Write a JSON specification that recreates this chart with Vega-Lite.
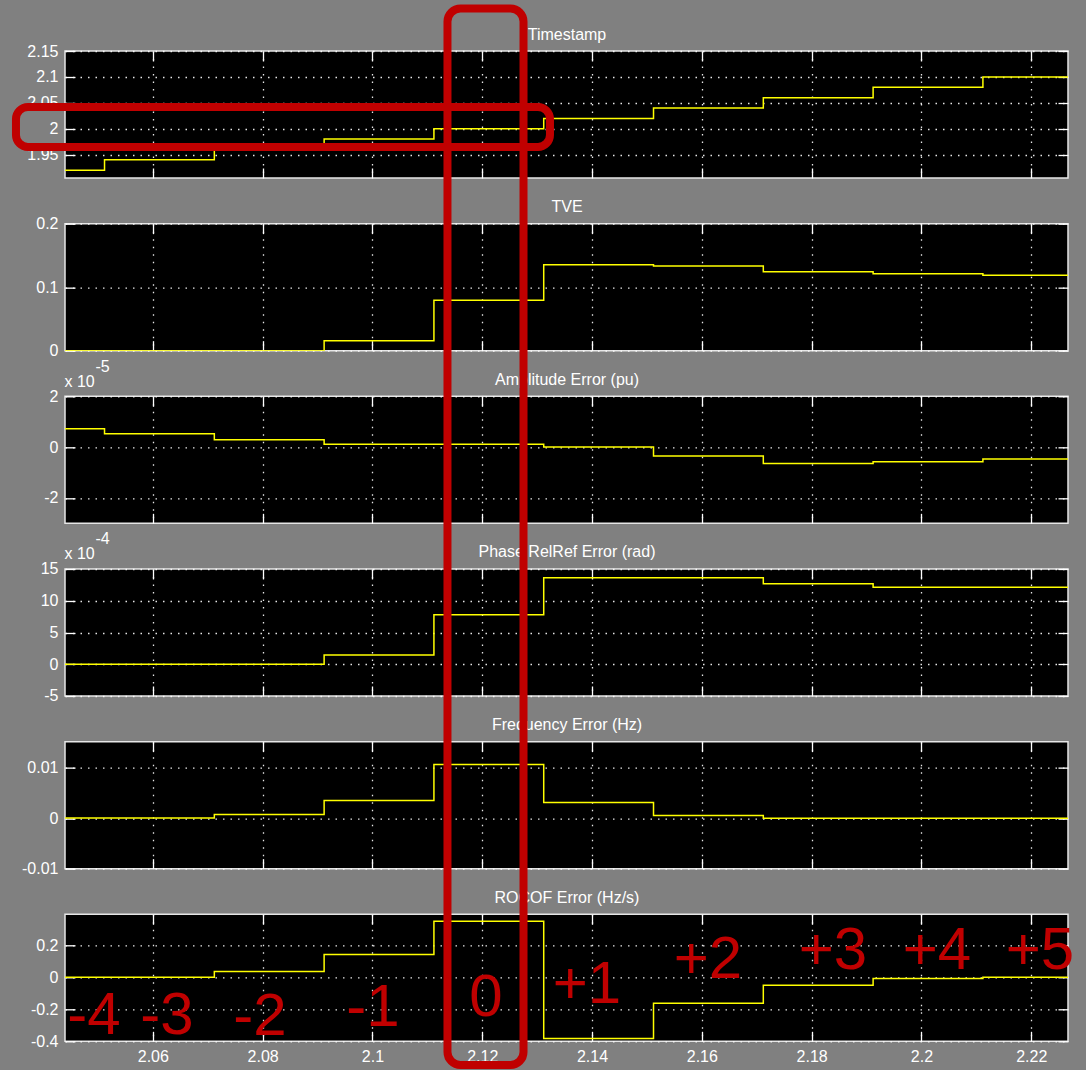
{
  "$schema": "https://vega.github.io/schema/vega-lite/v6.json",
  "background": "#808080",
  "padding": {"left": 11, "top": 3, "right": 11, "bottom": 0},
  "autosize": {"type": "pad"},
  "config": {
    "view": {"fill": "#000000", "stroke": "#E6E6E6", "strokeWidth": 1.5},
    "axis": {
      "domain": false, "ticks": true, "tickSize": -10, "tickColor": "#FFFFFF", "tickWidth": 1.3,
      "labelPadding": 17, "labelColor": "#FFFFFF", "labelFont": "Liberation Sans", "labelFontSize": 16,
      "labelFlush": false, "labelOverlap": false, "labelBound": false,
      "gridColor": "#FFFFFF", "gridDash": [1.5, 6], "gridWidth": 1.3, "gridOpacity": 0.9,
      "titleColor": "#FFFFFF", "titleFont": "Liberation Sans", "titleFontSize": 16, "titleFontWeight": "normal"
    }
  },
  "datasets": {
    "ts": [
      {"t": 2.044, "v": 1.92}, {"t": 2.0512, "v": 1.94}, {"t": 2.0712, "v": 1.96}, {"t": 2.0912, "v": 1.98},
      {"t": 2.1112, "v": 2.0}, {"t": 2.1312, "v": 2.02}, {"t": 2.1512, "v": 2.04}, {"t": 2.1712, "v": 2.06},
      {"t": 2.1912, "v": 2.08}, {"t": 2.2112, "v": 2.1}, {"t": 2.2267, "v": 2.1}
    ],
    "tve": [
      {"t": 2.044, "v": 0}, {"t": 2.0912, "v": 0.0158}, {"t": 2.1112, "v": 0.0794}, {"t": 2.1312, "v": 0.1353},
      {"t": 2.1512, "v": 0.1332}, {"t": 2.1712, "v": 0.1242}, {"t": 2.1912, "v": 0.1211}, {"t": 2.2112, "v": 0.1189},
      {"t": 2.2267, "v": 0.1189}
    ],
    "amp": [
      {"t": 2.044, "v": 0.72}, {"t": 2.0512, "v": 0.53}, {"t": 2.0712, "v": 0.29}, {"t": 2.0912, "v": 0.11},
      {"t": 2.1312, "v": 0.0}, {"t": 2.1512, "v": -0.35}, {"t": 2.1712, "v": -0.64}, {"t": 2.1912, "v": -0.58},
      {"t": 2.2112, "v": -0.47}, {"t": 2.2267, "v": -0.47}
    ],
    "phase": [
      {"t": 2.044, "v": 0}, {"t": 2.0912, "v": 1.44}, {"t": 2.1112, "v": 7.8}, {"t": 2.1312, "v": 13.6},
      {"t": 2.1712, "v": 12.67}, {"t": 2.1912, "v": 12.14}, {"t": 2.2267, "v": 12.14}
    ],
    "freq": [
      {"t": 2.044, "v": 0.00005}, {"t": 2.0712, "v": 0.0007}, {"t": 2.0912, "v": 0.0035}, {"t": 2.1112, "v": 0.0106},
      {"t": 2.1312, "v": 0.0031}, {"t": 2.1512, "v": 0.0005}, {"t": 2.1712, "v": 0.0}, {"t": 2.2267, "v": 0.0}
    ],
    "rocof": [
      {"t": 2.044, "v": 0}, {"t": 2.0712, "v": 0.037}, {"t": 2.0912, "v": 0.142}, {"t": 2.1112, "v": 0.351},
      {"t": 2.1312, "v": -0.382}, {"t": 2.1512, "v": -0.162}, {"t": 2.1712, "v": -0.05}, {"t": 2.1912, "v": -0.008},
      {"t": 2.2112, "v": 0}, {"t": 2.2267, "v": 0}
    ],
    "boxH": [{"x1": 2.03507, "x2": 2.13234, "y1": 2.042, "y2": 1.9649}],
    "boxV": [{"x1": 2.11367, "x2": 2.12752, "y1": 6.057, "y2": -0.5482}],
    "marks": [
      {"lab": "-4", "t": 2.04928, "v": -0.3544},
      {"lab": "-3", "t": 2.06258, "v": -0.3544},
      {"lab": "-2", "t": 2.07952, "v": -0.3606},
      {"lab": "-1", "t": 2.1001, "v": -0.3043},
      {"lab": "0", "t": 2.12069, "v": -0.2418},
      {"lab": "+1", "t": 2.13908, "v": -0.1605},
      {"lab": "+2", "t": 2.16112, "v": -0.0042},
      {"lab": "+3", "t": 2.18389, "v": 0.052},
      {"lab": "+4", "t": 2.20283, "v": 0.052},
      {"lab": "+5", "t": 2.2216, "v": 0.052}
    ]
  },
  "spacing": 45.66,
  "bounds": "flush",
  "vconcat": [
    {
      "width": 1003, "height": 127,
      "layer": [
        {
          "data": {"name": "ts"},
          "mark": {"type": "line", "interpolate": "step-after", "color": "#FFFF00", "strokeWidth": 1.5, "clip": true},
          "encoding": {
            "x": {"field": "t", "type": "quantitative", "scale": {"domain": [2.044, 2.2267], "nice": false, "zero": false},
                  "axis": {"orient": "bottom", "values": [2.06, 2.08, 2.1, 2.12, 2.14, 2.16, 2.18, 2.2, 2.22], "labels": false, "grid": true, "title": null}},
            "y": {"field": "v", "type": "quantitative", "scale": {"domain": [1.905, 2.15], "nice": false, "zero": false},
                  "axis": {"orient": "left", "values": [1.95, 2, 2.05, 2.1, 2.15], "grid": true, "title": null, "labelExpr": "'' + datum.value"}}
          }
        },
        {
          "data": {"name": "ts"},
          "mark": {"type": "line", "opacity": 0},
          "encoding": {
            "x": {"field": "t", "type": "quantitative", "axis": {"orient": "top", "values": [2.06, 2.08, 2.1, 2.12, 2.14, 2.16, 2.18, 2.2, 2.22], "labels": false, "grid": false,
                  "title": "Timestamp", "titleAngle": 0, "titleX": 501.5, "titleY": -12, "titleAlign": "center", "titleBaseline": "alphabetic"}},
            "y": {"field": "v", "type": "quantitative", "axis": {"orient": "right", "values": [1.95, 2, 2.05, 2.1, 2.15], "labels": false, "grid": false, "title": null}}
          }
        },
        {
          "data": {"name": "boxH"},
          "mark": {"type": "rect", "fill": "transparent", "stroke": "#C00000", "strokeWidth": 8, "cornerRadius": 12, "clip": false},
          "encoding": {
            "x": {"field": "x1", "type": "quantitative", "axis": null},
            "x2": {"field": "x2"},
            "y": {"field": "y1", "type": "quantitative", "axis": null},
            "y2": {"field": "y2"}
          }
        }
      ],
      "resolve": {"axis": {"x": "independent", "y": "independent"}}
    },
    {
      "width": 1003, "height": 127,
      "layer": [
        {
          "data": {"name": "tve"},
          "mark": {"type": "line", "interpolate": "step-after", "color": "#FFFF00", "strokeWidth": 1.5, "clip": true},
          "encoding": {
            "x": {"field": "t", "type": "quantitative", "scale": {"domain": [2.044, 2.2267], "nice": false, "zero": false},
                  "axis": {"orient": "bottom", "values": [2.06, 2.08, 2.1, 2.12, 2.14, 2.16, 2.18, 2.2, 2.22], "labels": false, "grid": true, "title": null}},
            "y": {"field": "v", "type": "quantitative", "scale": {"domain": [0, 0.2], "nice": false, "zero": false},
                  "axis": {"orient": "left", "values": [0, 0.1, 0.2], "grid": true, "title": null, "labelExpr": "'' + datum.value"}}
          }
        },
        {
          "data": {"name": "tve"},
          "mark": {"type": "line", "opacity": 0},
          "encoding": {
            "x": {"field": "t", "type": "quantitative", "axis": {"orient": "top", "values": [2.06, 2.08, 2.1, 2.12, 2.14, 2.16, 2.18, 2.2, 2.22], "labels": false, "grid": false,
                  "title": "TVE", "titleAngle": 0, "titleX": 501.5, "titleY": -12, "titleAlign": "center", "titleBaseline": "alphabetic"}},
            "y": {"field": "v", "type": "quantitative", "axis": {"orient": "right", "values": [0, 0.1, 0.2], "labels": false, "grid": false, "title": null}}
          }
        }
      ],
      "resolve": {"axis": {"x": "independent", "y": "independent"}}
    },
    {
      "width": 1003, "height": 127,
      "layer": [
        {
          "data": {"name": "amp"},
          "mark": {"type": "line", "interpolate": "step-after", "color": "#FFFF00", "strokeWidth": 1.5, "clip": true},
          "encoding": {
            "x": {"field": "t", "type": "quantitative", "scale": {"domain": [2.044, 2.2267], "nice": false, "zero": false},
                  "axis": {"orient": "bottom", "values": [2.06, 2.08, 2.1, 2.12, 2.14, 2.16, 2.18, 2.2, 2.22], "labels": false, "grid": true, "title": null}},
            "y": {"field": "v", "type": "quantitative", "scale": {"domain": [-3, 2], "nice": false, "zero": false},
                  "axis": {"orient": "left", "values": [-2, 0, 2], "grid": true, "labelExpr": "'' + datum.value",
                           "title": "x 10", "titleAngle": 0, "titleX": -1, "titleY": -10, "titleAlign": "left", "titleBaseline": "alphabetic"}}
          }
        },
        {
          "data": {"name": "amp"},
          "mark": {"type": "line", "opacity": 0},
          "encoding": {
            "x": {"field": "t", "type": "quantitative", "axis": {"orient": "top", "values": [2.06, 2.08, 2.1, 2.12, 2.14, 2.16, 2.18, 2.2, 2.22], "labels": false, "grid": false,
                  "title": "Amplitude Error (pu)", "titleAngle": 0, "titleX": 501.5, "titleY": -12, "titleAlign": "center", "titleBaseline": "alphabetic"}},
            "y": {"field": "v", "type": "quantitative", "axis": {"orient": "right", "values": [-2, 0, 2], "labels": false, "grid": false,
                  "title": "-5", "titleAngle": 0, "titleX": -973, "titleY": -25, "titleAlign": "left", "titleBaseline": "alphabetic"}}
          }
        }
      ],
      "resolve": {"axis": {"x": "independent", "y": "independent"}}
    },
    {
      "width": 1003, "height": 127,
      "layer": [
        {
          "data": {"name": "phase"},
          "mark": {"type": "line", "interpolate": "step-after", "color": "#FFFF00", "strokeWidth": 1.5, "clip": true},
          "encoding": {
            "x": {"field": "t", "type": "quantitative", "scale": {"domain": [2.044, 2.2267], "nice": false, "zero": false},
                  "axis": {"orient": "bottom", "values": [2.06, 2.08, 2.1, 2.12, 2.14, 2.16, 2.18, 2.2, 2.22], "labels": false, "grid": true, "title": null}},
            "y": {"field": "v", "type": "quantitative", "scale": {"domain": [-5, 15], "nice": false, "zero": false},
                  "axis": {"orient": "left", "values": [-5, 0, 5, 10, 15], "grid": true, "labelExpr": "'' + datum.value",
                           "title": "x 10", "titleAngle": 0, "titleX": -1, "titleY": -10, "titleAlign": "left", "titleBaseline": "alphabetic"}}
          }
        },
        {
          "data": {"name": "phase"},
          "mark": {"type": "line", "opacity": 0},
          "encoding": {
            "x": {"field": "t", "type": "quantitative", "axis": {"orient": "top", "values": [2.06, 2.08, 2.1, 2.12, 2.14, 2.16, 2.18, 2.2, 2.22], "labels": false, "grid": false,
                  "title": "Phase RelRef Error (rad)", "titleAngle": 0, "titleX": 501.5, "titleY": -12, "titleAlign": "center", "titleBaseline": "alphabetic"}},
            "y": {"field": "v", "type": "quantitative", "axis": {"orient": "right", "values": [-5, 0, 5, 10, 15], "labels": false, "grid": false,
                  "title": "-4", "titleAngle": 0, "titleX": -973, "titleY": -25, "titleAlign": "left", "titleBaseline": "alphabetic"}}
          }
        }
      ],
      "resolve": {"axis": {"x": "independent", "y": "independent"}}
    },
    {
      "width": 1003, "height": 127,
      "layer": [
        {
          "data": {"name": "freq"},
          "mark": {"type": "line", "interpolate": "step-after", "color": "#FFFF00", "strokeWidth": 1.5, "clip": true},
          "encoding": {
            "x": {"field": "t", "type": "quantitative", "scale": {"domain": [2.044, 2.2267], "nice": false, "zero": false},
                  "axis": {"orient": "bottom", "values": [2.06, 2.08, 2.1, 2.12, 2.14, 2.16, 2.18, 2.2, 2.22], "labels": false, "grid": true, "title": null}},
            "y": {"field": "v", "type": "quantitative", "scale": {"domain": [-0.01, 0.01515], "nice": false, "zero": false},
                  "axis": {"orient": "left", "values": [-0.01, 0, 0.01], "grid": true, "title": null, "labelExpr": "'' + datum.value"}}
          }
        },
        {
          "data": {"name": "freq"},
          "mark": {"type": "line", "opacity": 0},
          "encoding": {
            "x": {"field": "t", "type": "quantitative", "axis": {"orient": "top", "values": [2.06, 2.08, 2.1, 2.12, 2.14, 2.16, 2.18, 2.2, 2.22], "labels": false, "grid": false,
                  "title": "Frequency Error (Hz)", "titleAngle": 0, "titleX": 501.5, "titleY": -12, "titleAlign": "center", "titleBaseline": "alphabetic"}},
            "y": {"field": "v", "type": "quantitative", "axis": {"orient": "right", "values": [-0.01, 0, 0.01], "labels": false, "grid": false, "title": null}}
          }
        }
      ],
      "resolve": {"axis": {"x": "independent", "y": "independent"}}
    },
    {
      "width": 1003, "height": 127,
      "layer": [
        {
          "data": {"name": "rocof"},
          "mark": {"type": "line", "interpolate": "step-after", "color": "#FFFF00", "strokeWidth": 1.5, "clip": true},
          "encoding": {
            "x": {"field": "t", "type": "quantitative", "scale": {"domain": [2.044, 2.2267], "nice": false, "zero": false},
                  "axis": {"orient": "bottom", "values": [2.06, 2.08, 2.1, 2.12, 2.14, 2.16, 2.18, 2.2, 2.22], "labels": true, "grid": true, "title": null, "labelExpr": "'' + datum.value"}},
            "y": {"field": "v", "type": "quantitative", "scale": {"domain": [-0.4, 0.394], "nice": false, "zero": false},
                  "axis": {"orient": "left", "values": [-0.4, -0.2, 0, 0.2], "grid": true, "title": null, "labelExpr": "'' + datum.value"}}
          }
        },
        {
          "data": {"name": "rocof"},
          "mark": {"type": "line", "opacity": 0},
          "encoding": {
            "x": {"field": "t", "type": "quantitative", "axis": {"orient": "top", "values": [2.06, 2.08, 2.1, 2.12, 2.14, 2.16, 2.18, 2.2, 2.22], "labels": false, "grid": false,
                  "title": "ROCOF Error (Hz/s)", "titleAngle": 0, "titleX": 501.5, "titleY": -12, "titleAlign": "center", "titleBaseline": "alphabetic"}},
            "y": {"field": "v", "type": "quantitative", "axis": {"orient": "right", "values": [-0.4, -0.2, 0, 0.2], "labels": false, "grid": false, "title": null}}
          }
        },
        {
          "data": {"name": "marks"},
          "mark": {"type": "text", "color": "#C00000", "font": "Liberation Sans", "fontSize": 60, "align": "center", "baseline": "alphabetic", "clip": false},
          "encoding": {
            "x": {"field": "t", "type": "quantitative", "axis": null},
            "y": {"field": "v", "type": "quantitative", "axis": null},
            "text": {"field": "lab"}
          }
        },
        {
          "data": {"name": "boxV"},
          "mark": {"type": "rect", "fill": "transparent", "stroke": "#C00000", "strokeWidth": 8, "cornerRadius": 13, "clip": false},
          "encoding": {
            "x": {"field": "x1", "type": "quantitative", "axis": null},
            "x2": {"field": "x2"},
            "y": {"field": "y1", "type": "quantitative", "axis": null},
            "y2": {"field": "y2"}
          }
        }
      ],
      "resolve": {"axis": {"x": "independent", "y": "independent"}}
    }
  ]
}
